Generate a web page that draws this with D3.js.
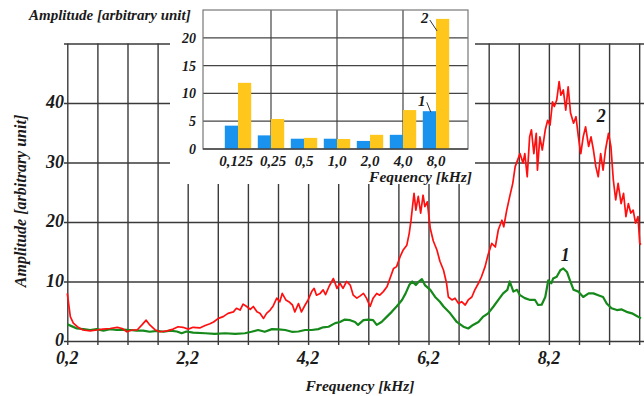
<!DOCTYPE html>
<html>
<head>
<meta charset="utf-8">
<script src="https://cdn.jsdelivr.net/npm/d3@7"></script>
<style>
  body { margin: 0; background: #fff; }
  svg text { font-family: "Liberation Serif", "Times New Roman", serif; font-weight: bold; font-style: italic; fill: #1a1a1a; }
</style>
</head>
<body>
<div id="chart"></div>
<script>
// curve 2 (red) - frequency [kHz] / amplitude
const freq2 = [0.20,0.25,0.30,0.38,0.46,0.58,0.69,0.79,0.91,1.03,1.11,1.19,1.28,1.36,1.44,1.51,1.57,1.66,1.74,1.86,
  1.96,2.04,2.12,2.21,2.29,2.40,2.49,2.57,2.63,2.71,2.79,2.87,2.96,3.01,3.07,3.12,3.18,3.24,3.29,3.35,
  3.40,3.46,3.51,3.57,3.62,3.68,3.73,3.77,3.83,3.88,3.94,3.98,4.04,4.09,4.15,4.20,4.26,4.30,4.34,4.40,
  4.45,4.49,4.55,4.62,4.68,4.73,4.78,4.84,4.90,4.95,5.01,5.06,5.12,5.17,5.23,5.28,5.34,5.39,5.45,5.51,
  5.56,5.62,5.67,5.73,5.78,5.84,5.88,5.91,5.94,5.96,5.99,6.03,6.07,6.11,6.14,6.18,6.23,6.28,6.34,6.39,
  6.45,6.50,6.53,6.59,6.64,6.70,6.75,6.81,6.86,6.92,6.97,7.03,7.08,7.14,7.19,7.25,7.31,7.36,7.42,7.45,
  7.50,7.55,7.60,7.64,7.68,7.72,7.77,7.80,7.84,7.88,7.91,7.95,7.99,8.01,8.05,8.09,8.14,8.18,8.22,8.26,
  8.29,8.33,8.37,8.40,8.44,8.48,8.52,8.56,8.61,8.65,8.69,8.73,8.77,8.81,8.86,8.90,8.94,8.98,9.02,9.06,
  9.10,9.14,9.19,9.23,9.27,9.31,9.35,9.40,9.44,9.48,9.52,9.56,9.60,9.64,9.68,9.71,9.73];
const amp2 = [8.0,4.1,3.0,2.3,1.85,1.7,1.85,2.0,2.1,2.3,2.1,1.55,1.85,1.85,2.7,3.5,2.7,1.85,1.55,1.7,
  2.0,2.4,2.3,2.0,2.3,2.2,2.6,2.9,3.2,3.8,4.1,4.65,4.9,5.5,5.2,6.2,5.8,5.3,5.8,4.9,
  4.65,3.8,4.65,5.2,5.9,7.2,6.6,8.0,6.9,6.6,6.05,4.9,6.3,4.9,6.05,6.9,8.3,8.85,7.7,8.0,
  8.6,7.8,9.2,10.5,8.85,9.7,8.85,10.0,9.4,7.7,7.2,7.55,8.0,7.2,5.8,7.2,8.0,7.7,8.3,9.1,
  10.5,12.2,12.5,14.2,15.3,16.1,18.1,20.3,23.1,24.8,22.0,24.3,21.5,24.5,22.6,23.4,18.9,16.8,15.3,13.4,
  11.9,9.7,7.4,6.9,7.2,6.3,6.6,6.05,6.9,7.4,8.6,9.7,10.8,12.5,14.5,16.4,15.8,18.7,20.3,19.2,
  22.0,24.3,26.5,29.3,30.4,31.5,29.9,31.5,27.6,34.3,35.5,31.5,34.9,28.7,34.3,32.1,35.5,37.1,36.3,40.2,
  39.4,40.5,43.6,41.3,42.2,38.8,42.7,38.3,36.6,37.7,34.3,31.5,34.3,36.0,32.7,34.3,32.1,29.3,27.6,31.5,
  28.7,32.1,34.9,32.7,27.1,23.7,26.5,23.1,24.8,20.9,23.1,21.5,22.0,19.8,20.9,16.4,16.2];

// curve 1 (green)
const freq1 = [0.20,0.27,0.36,0.47,0.58,0.69,0.80,0.91,1.02,1.13,1.24,1.35,1.46,1.57,1.69,1.80,1.91,2.02,2.10,2.18,
  2.29,2.49,2.65,2.82,2.99,3.15,3.26,3.37,3.48,3.60,3.71,3.82,3.93,4.04,4.15,4.26,4.37,4.45,4.54,4.65,
  4.73,4.81,4.90,4.98,5.03,5.12,5.20,5.28,5.34,5.42,5.51,5.59,5.67,5.76,5.82,5.88,5.93,5.99,6.04,6.09,
  6.14,6.23,6.31,6.39,6.45,6.56,6.67,6.78,6.86,6.94,7.03,7.11,7.19,7.28,7.36,7.44,7.51,7.55,7.61,7.67,
  7.72,7.80,7.89,7.97,8.02,8.08,8.14,8.19,8.24,8.27,8.33,8.39,8.44,8.50,8.55,8.61,8.69,8.77,8.86,8.94,
  9.02,9.10,9.16,9.24,9.33,9.41,9.49,9.58,9.66,9.73];
const amp1 = [2.8,2.5,2.1,2.0,1.85,2.0,1.75,2.0,1.85,1.9,1.85,1.75,1.75,1.55,1.7,1.55,1.75,1.6,1.3,1.6,
  1.4,1.3,1.2,1.3,1.2,1.3,1.55,1.85,1.55,2.0,1.95,1.85,1.55,1.6,1.85,1.85,2.0,2.3,2.4,3.0,
  3.2,3.6,3.5,3.2,2.7,3.5,3.6,3.5,2.7,3.2,4.1,4.9,5.8,6.9,8.0,9.4,10.0,9.4,10.0,10.4,
  9.4,8.6,7.4,6.6,5.8,4.65,3.2,2.4,2.1,2.7,3.2,4.1,4.65,5.8,6.9,8.0,8.6,10.0,8.3,8.6,
  7.7,7.2,6.9,6.9,6.05,6.1,7.4,10.2,9.7,10.5,10.8,11.9,12.2,11.6,10.2,8.6,8.3,7.4,8.0,8.0,
  7.7,7.4,6.3,5.5,5.2,5.3,4.9,4.65,4.2,3.8];

const xTicks = [0.2, 0.7, 1.2, 1.7, 2.2, 2.7, 3.2, 3.7, 4.2, 4.7, 5.2, 5.7, 6.2, 6.7, 7.2, 7.7, 8.2, 8.7, 9.2, 9.7];
const xLabelTicks = [0.2, 2.2, 4.2, 6.2, 8.2];
const yTicks = [0, 10, 20, 30, 40, 50];
const yLabelTicks = [0, 10, 20, 30, 40];

// inset bar chart
const bandCats = ["0,125", "0,25", "0,5", "1,0", "2,0", "4,0", "8,0"];
const bars1 = [4.2, 2.45, 1.85, 1.85, 1.45, 2.55, 6.8];
const bars2 = [11.9, 5.4, 2.0, 1.8, 2.55, 7.0, 23.4];
const insetTicks = [0, 5, 10, 15, 20];

const width = 644, height = 396;
const gridCol = "#3a3a3a";
const fmt = d => String(d).replace(".", ",");

const svg = d3.select("#chart").append("svg")
  .attr("width", width)
  .attr("height", height);

const x = d3.scaleLinear().domain([0.2, 9.78]).range([67.3, 644]);
const y = d3.scaleLinear().domain([0, 50]).range([341, 43.5]);

// grid lines
svg.append("g")
  .attr("transform", "translate(0,345)")
  .call(d3.axisBottom(x).tickValues(xTicks).tickSize(345 - 43.5).tickFormat(""))
  .call(g => g.select(".domain").remove())
  .call(g => g.selectAll(".tick line")
    .attr("y2", -(345 - 43.5))
    .style("stroke", gridCol).style("stroke-width", "1.4px"));

svg.append("g")
  .attr("transform", "translate(64,0)")
  .call(d3.axisRight(y).tickValues(yTicks).tickSize(width - 64).tickFormat(""))
  .call(g => g.select(".domain").remove())
  .call(g => g.selectAll(".tick line")
    .style("stroke", gridCol).style("stroke-width", "1.4px"));

// tick labels
svg.append("g")
  .selectAll("text")
  .data(xLabelTicks)
  .enter().append("text")
  .attr("x", d => x(d))
  .attr("y", 364)
  .attr("text-anchor", "middle")
  .style("font-size", "18px")
  .text(fmt);

svg.append("g")
  .selectAll("text")
  .data(yLabelTicks)
  .enter().append("text")
  .attr("x", 64)
  .attr("y", d => y(d) + 5)
  .attr("text-anchor", "end")
  .style("font-size", "18px")
  .text(d => d);

svg.append("text")
  .attr("x", 360)
  .attr("y", 391)
  .attr("text-anchor", "middle")
  .style("font-size", "15.5px")
  .text("Frequency [kHz]");

svg.append("text")
  .attr("transform", "translate(26,201) rotate(-90)")
  .attr("text-anchor", "middle")
  .style("font-size", "16px")
  .text("Amplitude [arbitrary unit]");

// curves
const line = d3.line().x(d => x(d[0])).y(d => y(d[1]));

svg.append("path")
  .datum(d3.zip(freq1, amp1))
  .attr("d", line)
  .style("fill", "none")
  .style("stroke", "#15891a")
  .style("stroke-width", "2.2px")
  .style("stroke-linejoin", "round");

svg.append("path")
  .datum(d3.zip(freq2, amp2))
  .attr("d", line)
  .style("fill", "none")
  .style("stroke", "#ff1010")
  .style("stroke-width", "1.7px")
  .style("stroke-linejoin", "round");

svg.append("text").attr("x", x(9.07)).attr("y", y(37.8) + 6)
  .attr("text-anchor", "middle").style("font-size", "18px").text("2");
svg.append("text").attr("x", x(8.47)).attr("y", y(14.5) + 6)
  .attr("text-anchor", "middle").style("font-size", "18px").text("1");

// inset
const inset = svg.append("g");
inset.append("rect")
  .attr("x", 170).attr("y", 0).attr("width", 305).attr("height", 184)
  .style("fill", "#ffffff");

const bx = d3.scaleBand().domain(bandCats).range([221.5, 452.5]).paddingInner(0.2).paddingOuter(0.1);
const bs = d3.scaleBand().domain([0, 1]).range([0, bx.bandwidth()]);
const by = d3.scaleLinear().domain([0, 25]).range([149, 10]);

inset.append("text")
  .attr("x", 29).attr("y", 20)
  .style("font-size", "15px")
  .text("Amplitude [arbitrary unit]");

// inset grid
inset.append("g")
  .selectAll("line")
  .data(insetTicks.slice(1))
  .enter().append("line")
  .attr("x1", 203).attr("x2", 468)
  .attr("y1", d => by(d)).attr("y2", d => by(d))
  .style("stroke", "#444").style("stroke-width", "1.2px");

inset.append("g")
  .selectAll("line")
  .data(bandCats.filter((c, i) => i % 2 === 1))
  .enter().append("line")
  .attr("x1", d => bx(d) + bx.bandwidth() / 2).attr("x2", d => bx(d) + bx.bandwidth() / 2)
  .attr("y1", by(25)).attr("y2", by(0))
  .style("stroke", "#444").style("stroke-width", "1.2px");

inset.append("rect")
  .attr("x", 203).attr("y", by(25)).attr("width", 265).attr("height", by(0) - by(25))
  .style("fill", "none").style("stroke", "#777").style("stroke-width", "1.2px");

// bars
const groups = inset.append("g")
  .selectAll("g")
  .data(bandCats)
  .enter().append("g")
  .attr("transform", d => "translate(" + bx(d) + ",0)");

groups.append("rect")
  .attr("x", bs(0)).attr("width", bs.bandwidth())
  .attr("y", (d, i) => by(bars1[i]))
  .attr("height", (d, i) => by(0) - by(bars1[i]))
  .style("fill", "#1a93ee");

groups.append("rect")
  .attr("x", bs(1)).attr("width", bs.bandwidth())
  .attr("y", (d, i) => by(bars2[i]))
  .attr("height", (d, i) => by(0) - by(bars2[i]))
  .style("fill", "#ffc61c");

inset.append("line")
  .attr("x1", 203).attr("x2", 468)
  .attr("y1", by(0)).attr("y2", by(0))
  .style("stroke", "#444").style("stroke-width", "1.6px");

// inset axis labels
inset.append("g")
  .selectAll("text")
  .data(insetTicks)
  .enter().append("text")
  .attr("x", 196)
  .attr("y", d => by(d) + 5)
  .attr("text-anchor", "end")
  .style("font-size", "14px")
  .text(d => d);

inset.append("g")
  .selectAll("text")
  .data(bandCats)
  .enter().append("text")
  .attr("x", (d, i) => bx(d) + bx.bandwidth() / 2 + (i === 0 ? -2 : i === 1 ? 2 : 0))
  .attr("y", 166)
  .attr("text-anchor", "middle")
  .style("font-size", "15px")
  .text(d => d);

inset.append("text")
  .attr("x", 472).attr("y", 182)
  .attr("text-anchor", "end")
  .style("font-size", "15.5px")
  .text("Fequency [kHz]");

// series markers in inset
const last = bandCats[bandCats.length - 1];
inset.append("text")
  .attr("x", bx(last) + 2).attr("y", by(23.5) + 5)
  .attr("text-anchor", "middle").style("font-size", "15px").text("2");
inset.append("line")
  .attr("x1", bx(last) + 7).attr("y1", by(23.2))
  .attr("x2", bx(last) + bs(1) + 1).attr("y2", by(bars2[6]) + 12)
  .style("stroke", "#333").style("stroke-width", "1px");
inset.append("text")
  .attr("x", bx(last) - 1).attr("y", by(8.7) + 5)
  .attr("text-anchor", "middle").style("font-size", "15px").text("1");
inset.append("line")
  .attr("x1", bx(last) + 4).attr("y1", by(8.4))
  .attr("x2", bx(last) + 8).attr("y2", by(bars1[6]) + 1)
  .style("stroke", "#333").style("stroke-width", "1px");
</script>
</body>
</html>
